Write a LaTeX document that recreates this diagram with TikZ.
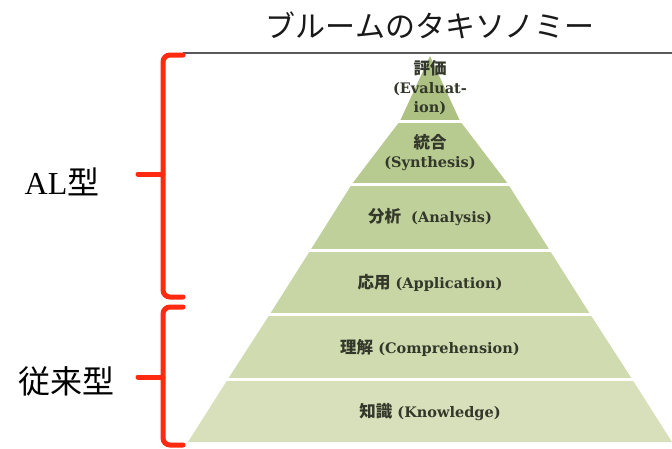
\documentclass[tikz,border=0pt]{standalone}
\usepackage{fontspec}
\setmainfont{Liberation Serif}
\newfontfamily\labfont{DejaVu Serif}
\newfontfamily\jp{Noto Sans CJK JP}
\definecolor{bandA}{HTML}{ADC282}
\definecolor{bandB}{HTML}{B7CA8F}
\definecolor{bandC}{HTML}{C0D09B}
\definecolor{bandD}{HTML}{C8D6A6}
\definecolor{bandE}{HTML}{D0DBB0}
\definecolor{bandF}{HTML}{D7E0BA}
\definecolor{brk}{HTML}{FF2A10}
\definecolor{lbl}{HTML}{33382A}
\newcommand{\jlab}[1]{{\jp\bfseries\fontsize{16.5}{19}\selectfont #1}}
\tikzset{
  brace/.style={draw=brk, line width=5pt, rounded corners=7pt, line cap=round},
  sep/.style={draw=white, line width=3pt},
  lab/.style={text=lbl, font=\labfont\bfseries\fontsize{14.5}{19}\selectfont, align=center, inner sep=0pt},
  side/.style={text=black, font=\fontsize{32}{36}\selectfont, inner sep=0pt},
}
\begin{document}
\begin{tikzpicture}[x=1pt,y=-1pt]
\useasboundingbox (0,0) rectangle (672,448);
\fill[white] (0,0) rectangle (672,448);
% pyramid bands
\fill[bandA] (430,56) -- (460,121) -- (400,121) -- cycle;
\fill[bandB] (400,121) -- (460,121) -- (508,184) -- (352,184) -- cycle;
\fill[bandC] (352,184) -- (508,184) -- (549.5,250) -- (310.5,250) -- cycle;
\fill[bandD] (310.5,250) -- (549.5,250) -- (590,314) -- (270,314) -- cycle;
\fill[bandE] (270,314) -- (590,314) -- (632,379) -- (228,379) -- cycle;
\fill[bandF] (228,379) -- (632,379) -- (672,442) -- (188,442) -- cycle;
\foreach \y in {121,184,250,314,379} \draw[sep] (180,\y) -- (672,\y);
% title and line
\node[inner sep=0pt, font=\jp\fontsize{30}{34}\selectfont, text=black!90] (title) at (430,25) {ブルームのタキソノミー};
\coordinate (lineL) at (183,53);
\coordinate (lineR) at (672,53);
\draw[draw=black!65, line width=1.5pt] (lineL) -- (lineR);
% labels
\node[lab] (eval) at (430,88) {\jlab{評価}\\(Evaluat-\\ion)};
\node[lab] (syn) at (430,153) {\jlab{統合}\\(Synthesis)};
\node[lab] (ana) at (430,217) {\jlab{分析}\ \ (Analysis)};
\node[lab] (app) at (430,283) {\jlab{応用} (Application)};
\node[lab] (comp) at (430,348) {\jlab{理解} (Comprehension)};
\node[lab] (know) at (430,412) {\jlab{知識} (Knowledge)};
% brackets
\coordinate (b1t) at (183,55);
\coordinate (b1b) at (183,297);
\coordinate (b1m) at (163,174);
\coordinate (b1tick) at (138,174);
\coordinate (b2t) at (183,307);
\coordinate (b2b) at (183,445);
\coordinate (b2m) at (163,377);
\coordinate (b2tick) at (138,377);
\draw[brace] (b1t) -- (163,55) -- (163,297) -- (b1b);
\draw[brace, rounded corners=0pt] (b1tick) -- (b1m);
\draw[brace] (b2t) -- (163,307) -- (163,445) -- (b2b);
\draw[brace, rounded corners=0pt] (b2tick) -- (b2m);
% side labels
\node[side] (al) at (62,182) {AL{\jp 型}};
\node[side] (trad) at (66,381) {{\jp 従来型}};
\end{tikzpicture}
\end{document}
